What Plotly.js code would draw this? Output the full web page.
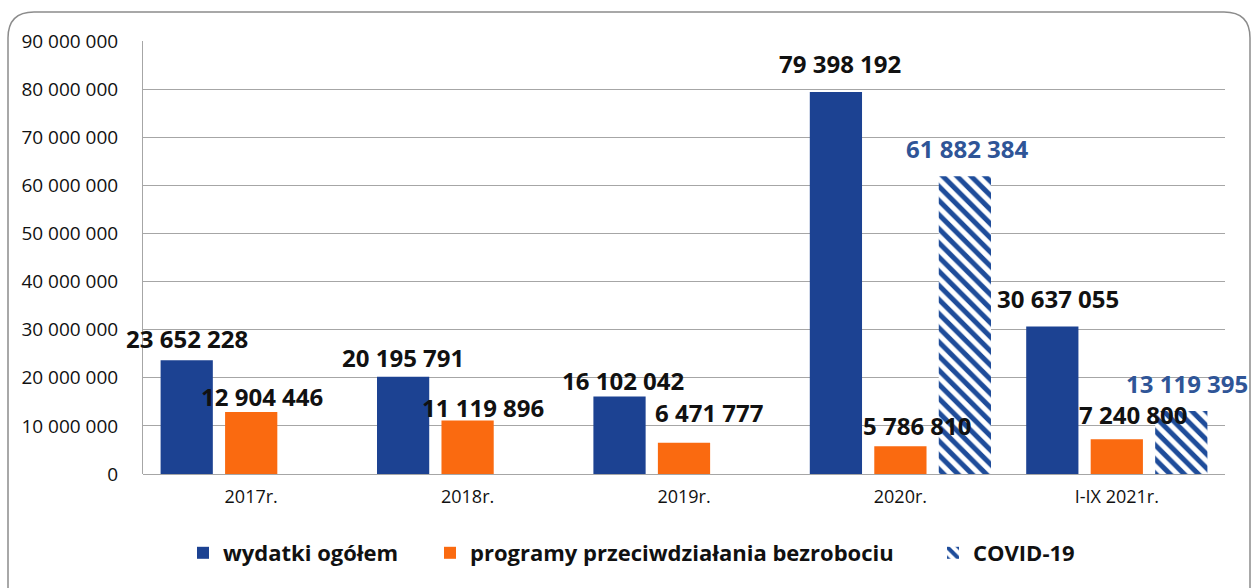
<!DOCTYPE html>
<html>
<head>
<meta charset="utf-8">
<script src="https://cdn.plot.ly/plotly-3.0.1.min.js"></script>
<style>html,body{margin:0;padding:0;background:#fff;}#chart{width:1253px;height:588px;}</style>
</head>
<body>
<div id="chart"></div>
<script>
// ---- data ----
const categories = ['2017r.', '2018r.', '2019r.', '2020r.', 'I-IX 2021r.'];
const wydatkiOgolem = [23652228, 20195791, 16102042, 79398192, 30637055];
const programyBezrobocie = [12904446, 11119896, 6471777, 5786810, 7240800];
const covid19 = [null, null, null, 61882384, 13119395];
const seriesNames = ['wydatki ogółem', 'programy przeciwdziałania bezrobociu', 'COVID-19'];
const yTicks = [0, 10000000, 20000000, 30000000, 40000000, 50000000, 60000000, 70000000, 80000000, 90000000];

// ---- style ----
const BLUE = '#1C4292';
const ORANGE = '#FA6A10';
const COVID_BLUE = '#1E4C9A';
const LABEL_BLUE = '#2F5597';
const FONT = 'Open Sans, Noto Sans, sans-serif';
const W = 1253, H = 588;
const M = {l: 143, r: 28, t: 41, b: 114};
const BARGAP = 0.106, BARGROUPGAP = 0.19;
// label nudges (pixels): horizontal shift and height of label centre above bar top
const labelDx = [[0, 0, 3, 4, 6], [11, 15, 25, 17, 17], [0, 0, 0, 3, 6]];
const labelDy = [[22, 19, 16, 29, 28], [15, 13, 30, 21, 25], [0, 0, 0, 28, 27]];
// legend text start positions (pixels)
const legendTextX = [223, 470, 973];

function fmt(v) {
  return String(Math.round(v)).replace(/\B(?=(\d{3})+(?!\d))/g, ' ');
}
function px(x) { return (x - M.l) / (W - M.l - M.r); }
function py(y) { return (H - M.b - y) / (H - M.t - M.b); }

const allSeries = [wydatkiOgolem, programyBezrobocie, covid19];
const legendIds = ['legend', 'legend2', 'legend3'];

const traces = [
  {type: 'bar', name: seriesNames[0], x: categories, y: wydatkiOgolem, legend: legendIds[0],
   marker: {color: BLUE}, hoverinfo: 'skip'},
  {type: 'bar', name: seriesNames[1], x: categories, y: programyBezrobocie, legend: legendIds[1],
   marker: {color: ORANGE}, hoverinfo: 'skip'},
  {type: 'bar', name: seriesNames[2], x: categories, y: covid19, legend: legendIds[2],
   marker: {color: 'white', pattern: {shape: '\\', fgcolor: COVID_BLUE, bgcolor: 'white', fgopacity: 1,
            size: 10, solidity: 0.5, fillmode: 'replace'}},
   hoverinfo: 'skip'}
];

const slot = (1 - BARGAP) / 3;
const annotations = [];
allSeries.forEach((ser, i) => {
  ser.forEach((v, j) => {
    if (v === null || v === undefined) return;
    annotations.push({
      x: j + (i - 1) * slot, y: v, xref: 'x', yref: 'y',
      text: fmt(v), showarrow: false,
      xanchor: 'center', yanchor: 'middle',
      xshift: labelDx[i][j], yshift: labelDy[i][j],
      font: {family: FONT, size: 24, color: i === 2 ? LABEL_BLUE : '#111111', weight: 'bold'}
    });
  });
});

// rounded frame
const fx0 = px(8), fx1 = px(1250), fy0 = py(12), fyb = py(600);
const rx = px(8 + 26) - px(8), ry = py(12) - py(12 + 26);
const framePath = `M ${fx0} ${fyb} L ${fx0} ${fy0 - ry} Q ${fx0} ${fy0} ${fx0 + rx} ${fy0} ` +
  `L ${fx1 - rx} ${fy0} Q ${fx1} ${fy0} ${fx1} ${fy0 - ry} L ${fx1} ${fyb}`;

const legendBase = {orientation: 'h', xanchor: 'left', y: py(553), yanchor: 'middle',
  font: {family: FONT, size: 22, color: '#111111', weight: 'bold'},
  itemwidth: 30, bgcolor: 'rgba(0,0,0,0)'};

const layout = {
  width: W, height: H,
  margin: M,
  paper_bgcolor: 'white', plot_bgcolor: 'white',
  barmode: 'group', bargap: BARGAP, bargroupgap: BARGROUPGAP,
  separators: ', ',
  font: {family: FONT, color: '#111111'},
  showlegend: true,
  legend: Object.assign({}, legendBase, {x: px(legendTextX[0] - 40)}),
  legend2: Object.assign({}, legendBase, {x: px(legendTextX[1] - 40)}),
  legend3: Object.assign({}, legendBase, {x: px(legendTextX[2] - 40)}),
  xaxis: {type: 'category', range: [-0.5, categories.length - 0.5], autorange: false,
          showgrid: false, showline: false, zeroline: false, ticks: '',
          tickfont: {family: FONT, size: 18, color: '#111111'}, ticklabelstandoff: 10,
          fixedrange: true},
  yaxis: {range: [0, 90000000], autorange: false, tickvals: yTicks, ticktext: yTicks.map(fmt),
          showgrid: true, gridcolor: '#A6A6A6', gridwidth: 1,
          showline: true, linecolor: '#A6A6A6', linewidth: 1,
          zeroline: true, zerolinecolor: '#A6A6A6', zerolinewidth: 1,
          ticks: '', tickfont: {family: FONT, size: 19, color: '#111111'}, ticklabelstandoff: 20,
          fixedrange: true},
  annotations: annotations,
  shapes: [{type: 'path', xref: 'paper', yref: 'paper', path: framePath,
            line: {color: '#8C8C8C', width: 1.5}, fillcolor: 'rgba(0,0,0,0)', layer: 'below'}]
};

Plotly.newPlot('chart', traces, layout, {displayModeBar: false, staticPlot: true});
</script>
</body>
</html>
